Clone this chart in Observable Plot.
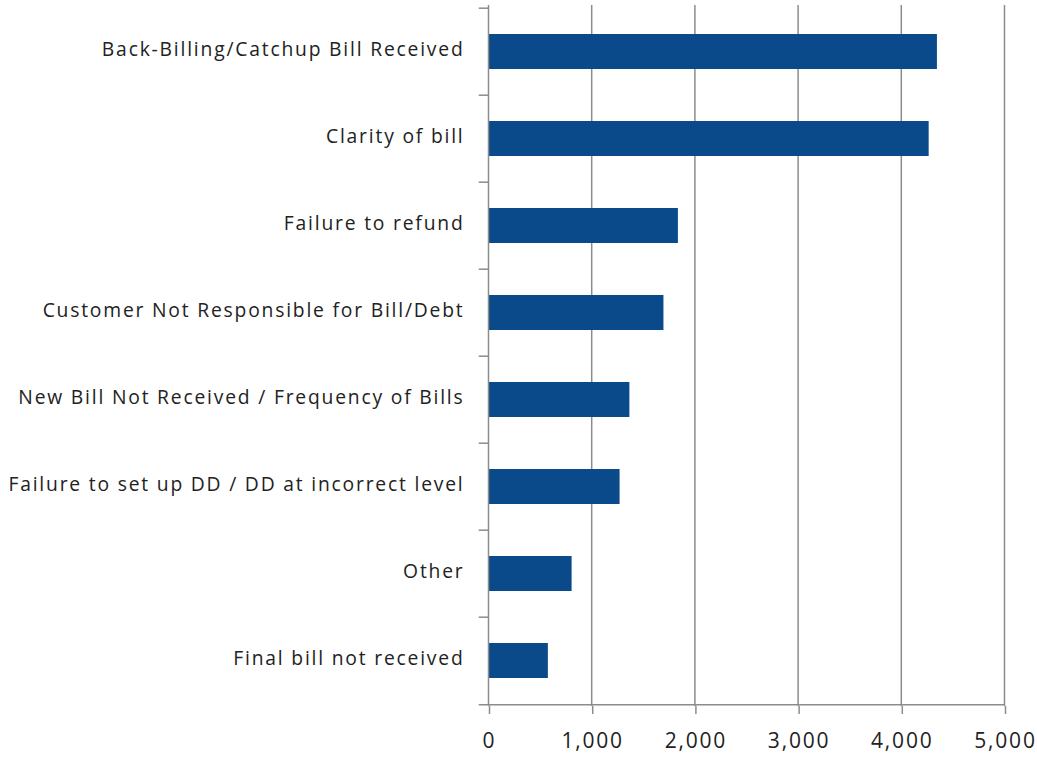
<!DOCTYPE html>
<html>
<head>
<meta charset="utf-8">
<script src="https://cdn.jsdelivr.net/npm/d3@7"></script>
<script src="https://cdn.jsdelivr.net/npm/@observablehq/plot@0.6"></script>
<style>
  html, body { margin: 0; padding: 0; background: #fff; }
  #chart svg { font-family: "Open Sans", sans-serif; }
  #chart svg text { letter-spacing: 1.8px; }
</style>
</head>
<body>
<div id="chart"></div>
<script>
const categories = [
  "Back-Billing/Catchup Bill Received",
  "Clarity of bill",
  "Failure to refund",
  "Customer Not Responsible for Bill/Debt",
  "New Bill Not Received / Frequency of Bills",
  "Failure to set up DD / DD at incorrect level",
  "Other",
  "Final bill not received"
];
const values = [4350, 4270, 1840, 1700, 1370, 1275, 810, 580];
const xTicks = [0, 1000, 2000, 3000, 4000, 5000];

const data = categories.map((c, i) => ({category: c, value: values[i]}));
const gridColor = "#8c8c8c";
const bandHalf = (757 - 5 - 51) / categories.length / 2;

const chart = Plot.plot({
  width: 1037,
  height: 757,
  marginLeft: 488,
  marginRight: 33,
  marginTop: 5,
  marginBottom: 51,
  style: {fontSize: "19px", color: "#222", background: "#fff"},
  x: {domain: [0, 5000], ticks: xTicks, tickFormat: d3.format(",")},
  y: {domain: categories, padding: 0, label: null},
  marks: [
    Plot.ruleX(xTicks.slice(1), {stroke: gridColor, strokeWidth: 1.5}),
    Plot.barX(data, {x: "value", y: "category", fill: "#0a4a8b", insetTop: 26, insetBottom: 26}),
    Plot.ruleY(categories, {y: d => d, x1: -90, x2: 0, dy: -bandHalf, stroke: gridColor, strokeWidth: 1.5}),
    Plot.ruleX([0], {stroke: gridColor, strokeWidth: 1.5}),
    Plot.ruleY([categories[categories.length - 1]], {y: d => d, x1: -90, x2: 5000, dy: bandHalf, stroke: gridColor, strokeWidth: 1.5}),
    Plot.axisX({ticks: xTicks, tickSize: 8, tickPadding: 19, stroke: gridColor, strokeWidth: 1.5, label: null, tickFormat: d3.format(","), fontSize: 21, dx: 1}),
    Plot.axisY({tickSize: 0, tickPadding: 24, label: null, fontSize: 19.3, dy: -2})
  ]
});
document.getElementById("chart").appendChild(chart);
</script>
</body>
</html>
